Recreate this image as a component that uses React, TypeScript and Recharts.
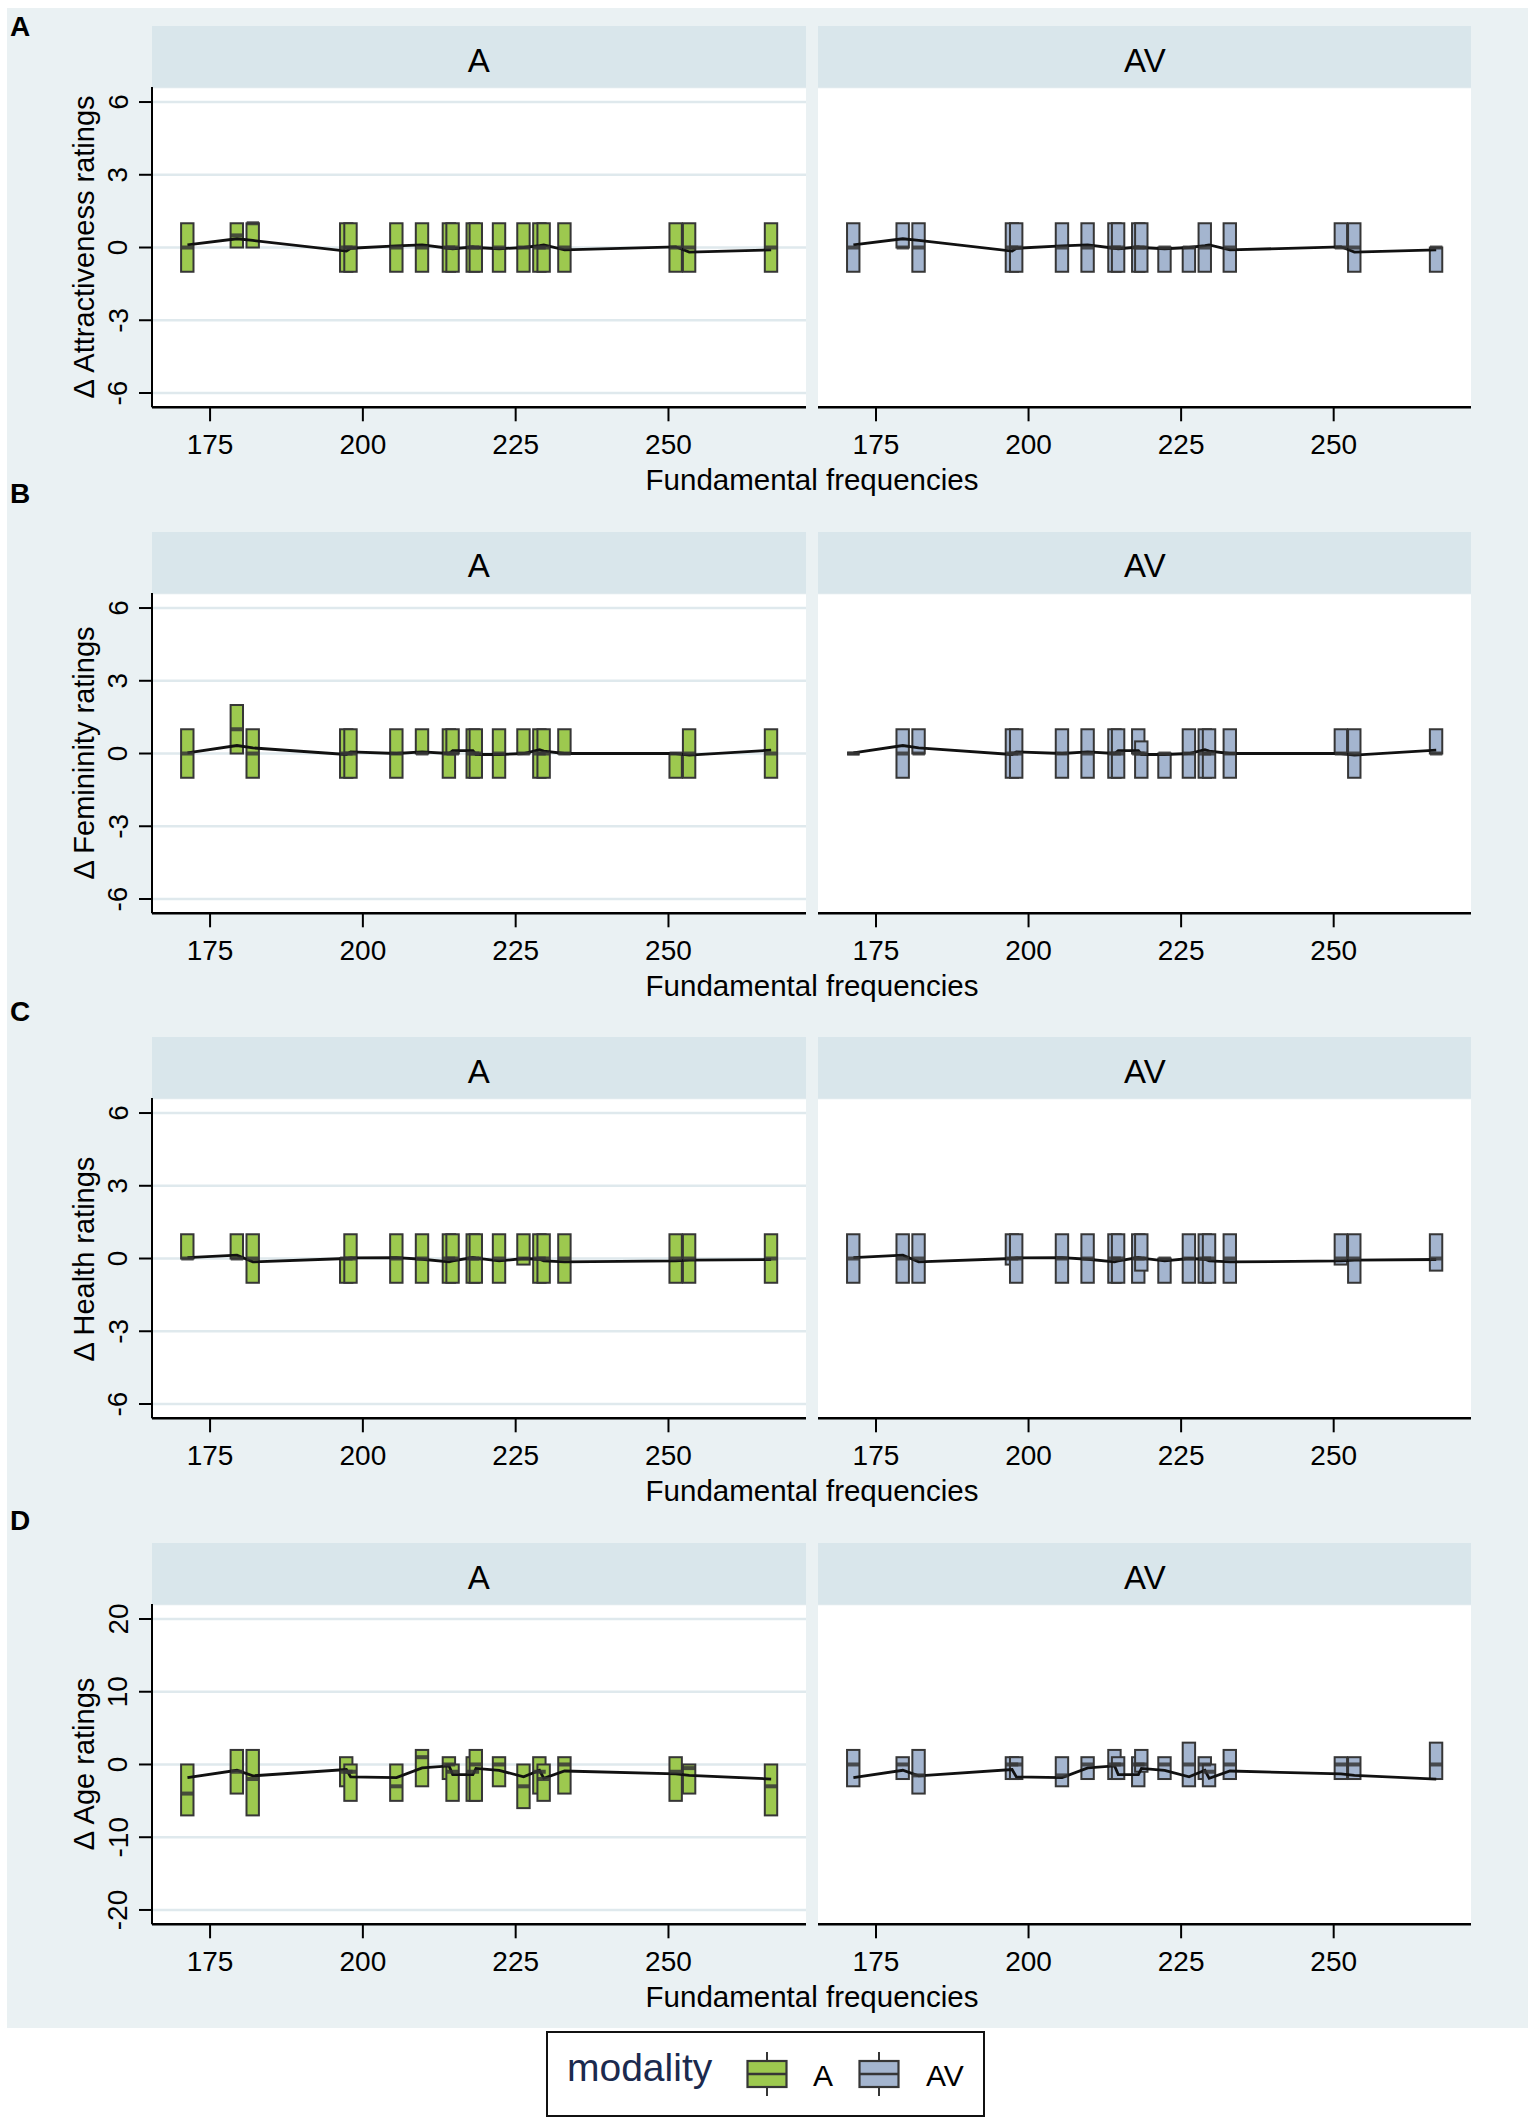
import React from 'react';
import { ComposedChart, Bar, Scatter, Line, XAxis, YAxis, CartesianGrid } from 'recharts';

const FONT = '"Liberation Sans", Arial, Helvetica, sans-serif';
const OUTLINE = '#363636';
const GREEN = '#9dc94f';
const BLUE = '#a4b5cf';
const BG = '#eaf1f3';
const HEADER = '#d9e6eb';
const GRID = '#dfe9ed';

// Fundamental frequencies (Hz) of the voices
const freqs = [171.3, 179.4, 182.0, 197.3, 198.0, 205.5, 209.7, 214.1, 214.7, 218.0, 218.5, 222.3, 226.3, 228.9, 229.6, 233.0, 251.2, 253.4, 266.8];
const xTicks = [175, 200, 225, 250];
const yTicksSmall = [-6, -3, 0, 3, 6];
const yTicksAge = [-20, -10, 0, 10, 20];
const panelNames = ['A', 'AV'];
const rowLetters = ['A', 'B', 'C', 'D'];
const yTitles = ['\u0394 Attractiveness ratings', '\u0394 Femininity ratings', '\u0394 Health ratings', '\u0394 Age ratings'];

type Box = [number, number, number] | null; // [q1, q3, median]

// Attractiveness
const attrLine = [0.11, 0.36, 0.29, -0.15, -0.03, 0.07, 0.11, -0.03, -0.05, 0.02, 0.0, -0.05, 0.0, 0.08, 0.11, -0.1, 0.03, -0.19, -0.1];
const attrA: Box[] = [[-1, 1, 0], [0, 1, 0.5], [0, 1, 1], [-1, 1, 0], [-1, 1, 0], [-1, 1, 0], [-1, 1, 0], [-1, 1, 0], [-1, 1, 0], [-1, 1, 0], [-1, 1, 0], [-1, 1, 0], [-1, 1, 0], [-1, 1, 0], [-1, 1, 0], [-1, 1, 0], [-1, 1, 0], [-1, 1, 0], [-1, 1, 0]];
const attrAV: Box[] = [[-1, 1, 0], [0, 1, 0], [-1, 1, 0], [-1, 1, 0], [-1, 1, 0], [-1, 1, 0], [-1, 1, 0], [-1, 1, 0], [-1, 1, 0], [-1, 1, 0], [-1, 1, 0], [-1, 0, 0], [-1, 0, 0], [-1, 1, 0], null, [-1, 1, 0], [0, 1, 0], [-1, 1, 0], [-1, 0, 0]];

// Femininity
const femLine = [0.03, 0.33, 0.23, -0.04, 0.07, 0.0, 0.07, 0.0, 0.12, 0.12, -0.04, -0.04, 0.0, 0.16, 0.1, 0.0, 0.0, -0.07, 0.14];
const femA: Box[] = [[-1, 1, 0], [0, 2, 1], [-1, 1, 0], [-1, 1, 0], [-1, 1, 0], [-1, 1, 0], [0, 1, 0], [-1, 1, 0], [0, 1, 0], [-1, 1, 0], [-1, 1, 0], [-1, 1, 0], [0, 1, 0], [-1, 1, 0], [-1, 1, 0], [0, 1, 0], [-1, 0, 0], [-1, 1, 0], [-1, 1, 0]];
const femAV: Box[] = [[0, 0, 0], [-1, 1, 0], [0, 1, 0], [-1, 1, 0], [-1, 1, 0], [-1, 1, 0], [-1, 1, 0], [-1, 1, 0], [-1, 1, 0], [0, 1, 0], [-1, 0.5, 0], [-1, 0, 0], [-1, 1, 0], [-1, 1, 0], [-1, 1, 0], [-1, 1, 0], [0, 1, 0], [-1, 1, 0], [0, 1, 0]];

// Health
const healthLine = [0.04, 0.14, -0.14, 0.0, 0.03, 0.04, -0.03, -0.14, -0.1, 0.04, 0.02, -0.1, 0.0, -0.03, -0.1, -0.14, -0.1, -0.07, -0.04];
const healthA: Box[] = [[0, 1, 0], [0, 1, 0], [-1, 1, 0], [-1, 0, 0], [-1, 1, 0], [-1, 1, 0], [-1, 1, 0], [-1, 1, 0], [-1, 1, 0], [-1, 1, 0], [-1, 1, 0], [-1, 1, 0], [-0.25, 1, 0], [-1, 1, 0], [-1, 1, 0], [-1, 1, 0], [-1, 1, 0], [-1, 1, 0], [-1, 1, 0]];
const healthAV: Box[] = [[-1, 1, 0], [-1, 1, 0], [-1, 1, 0], [-0.25, 1, 0], [-1, 1, 0], [-1, 1, 0], [-1, 1, 0], [-1, 1, 0], [-1, 1, 0], [-1, 1, 0], [-0.5, 1, 0], [-1, 0, 0], [-1, 1, 0], [-1, 1, 0], [-1, 1, 0], [-1, 1, 0], [-0.25, 1, 0], [-1, 1, 0], [-0.5, 1, 0]];

// Age
const ageLine = [-1.8, -0.8, -1.56, -0.7, -1.7, -1.8, -0.46, -0.2, -1.4, -1.4, -0.55, -0.8, -1.7, -0.8, -1.9, -0.9, -1.3, -1.5, -2.0];
const ageA: Box[] = [[-7, 0, -4], [-4, 2, -1], [-7, 2, -2], [-3, 1, -1], [-5, 0, -1], [-5, 0, -3], [-3, 2, 1], [-2, 1, 0], [-5, 0, -1], [-5, 1, -1], [-5, 2, 0], [-3, 1, 0], [-6, 0, -3], [-4, 1, -1], [-5, 0, -2], [-4, 1, 0], [-5, 1, -1], [-4, 0, -0.5], [-7, 0, -3]];
const ageAV: Box[] = [[-3, 2, 0], [-2, 1, 0], [-4, 2, -1.5], [-2, 1, 0], [-2, 1, 0], [-3, 1, -1.5], [-2, 1, 0], [-2, 2, 0], [-2, 1, 0], [-3, 1, 0], [-1, 2, 0], [-2, 1, 0], [-3, 3, 0], [-2, 1, 0], [-3, 0, -1], [-2, 2, 0], [-2, 1, 0], [-2, 1, 0], [-2, 3, 0]];

const rowLines = [attrLine, femLine, healthLine, ageLine];
const rowBoxes = [[attrA, attrAV], [femA, femAV], [healthA, healthAV], [ageA, ageAV]];
const rowYTicks = [yTicksSmall, yTicksSmall, yTicksSmall, yTicksAge];
const rowYDomains: [number, number][] = [[-6.59, 6.62], [-6.59, 6.62], [-6.59, 6.62], [-21.97, 22.06]];
const X_DOMAIN: [number, number] = [165.5, 272.5];

// layout
const ROW_TOPS = [26, 531.7, 1037.4, 1543.1];
const LETTER_TOPS = [12.5, 479.5, 998, 1507];
const PLOT_X = [151.7, 818.4];
const PLOT_W = [654, 653];
const Y_AXIS_W = 92;
const HEAD_H = 61;
const PLOT_H = 320.3;
const X_AXIS_H = 60;
const BOX_W = 12.4;

function buildData(boxes: Box[], line: number[]) {
  return freqs.map((f, i) => {
    const b = boxes[i];
    return { f, box: b ? [b[0], b[1]] : null, med: b ? b[2] : null, ln: line[i] };
  });
}

const BoxShape = (props: any) => {
  const { x, y, width, height, fill, payload } = props;
  if (!payload || payload.box == null || x == null || y == null || isNaN(y)) return null;
  const cx = x + (width || 0) / 2;
  const top = Math.min(y, y + height);
  const h = Math.abs(height);
  if (h < 2) {
    return <rect x={cx - BOX_W / 2} y={top - 1.8} width={BOX_W} height={3.6} fill={OUTLINE} />;
  }
  return <rect x={cx - BOX_W / 2} y={top} width={BOX_W} height={h} fill={fill} stroke={OUTLINE} strokeWidth={2} />;
};

const MedShape = (props: any) => {
  const { cx, cy, payload } = props;
  if (!payload || payload.med == null || cx == null || cy == null || isNaN(cy)) return null;
  return <rect x={cx - BOX_W / 2} y={cy - 2} width={BOX_W} height={4} fill={OUTLINE} fillOpacity={0.85} />;
};

const YTick = (props: any) => {
  const { x, y, payload } = props;
  const tx = x - 21;
  return (
    <text x={tx} y={y} transform={`rotate(-90 ${tx} ${y})`} textAnchor="middle" dominantBaseline="central" fontSize={28} fontFamily={FONT} fill="#000">
      {payload.value}
    </text>
  );
};

function Panel({ row, col }: { row: number; col: number }) {
  const T = ROW_TOPS[row];
  const showY = col === 0;
  const yW = showY ? Y_AXIS_W : 0;
  const left = PLOT_X[col] - yW;
  const width = PLOT_W[col] + yW;
  const height = PLOT_H + X_AXIS_H;
  const data = buildData(rowBoxes[row][col], rowLines[row]);
  const color = col === 0 ? GREEN : BLUE;
  return (
    <div style={{ position: 'absolute', left, top: T + HEAD_H, width, height }}>
      <ComposedChart width={width} height={height} data={data} margin={{ top: 0, right: 0, bottom: 0, left: 0 }}>
        <CartesianGrid vertical={false} stroke={GRID} strokeWidth={2.5} fill="#ffffff" fillOpacity={1} />
        <XAxis
          dataKey="f"
          type="number"
          domain={X_DOMAIN}
          ticks={xTicks}
          interval={0}
          allowDataOverflow
          height={X_AXIS_H}
          tickSize={14}
          tickMargin={13}
          axisLine={{ stroke: '#000', strokeWidth: 2.5 }}
          tickLine={{ stroke: '#000', strokeWidth: 2 }}
          tick={{ fontSize: 28, fill: '#000', fontFamily: FONT }}
        />
        {showY ? (
          <YAxis
            type="number"
            domain={rowYDomains[row]}
            ticks={rowYTicks[row]}
            interval={0}
            allowDataOverflow
            width={Y_AXIS_W}
            tickSize={13}
            tickMargin={0}
            axisLine={{ stroke: '#000', strokeWidth: 2 }}
            tickLine={{ stroke: '#000', strokeWidth: 2 }}
            tick={<YTick />}
          />
        ) : (
          <YAxis
            type="number"
            domain={rowYDomains[row]}
            ticks={rowYTicks[row]}
            interval={0}
            allowDataOverflow
            width={0}
            axisLine={false}
            tickLine={false}
            tick={false}
          />
        )}
        <Bar dataKey="box" barSize={11} fill={color} shape={<BoxShape />} isAnimationActive={false} />
        <Scatter dataKey="med" shape={<MedShape />} isAnimationActive={false} />
        <Line dataKey="ln" type="linear" stroke="#111" strokeWidth={2.8} dot={false} activeDot={false} isAnimationActive={false} />
      </ComposedChart>
    </div>
  );
}

function LegendIcon({ left, color }: { left: number; color: string }) {
  return (
    <svg style={{ position: 'absolute', left, top: 2050 }} width={44} height={48}>
      <line x1={22} y1={2} x2={22} y2={12} stroke={OUTLINE} strokeWidth={2} />
      <line x1={22} y1={36} x2={22} y2={46} stroke={OUTLINE} strokeWidth={2} />
      <rect x={2.5} y={11} width={39} height={26} fill={color} stroke={OUTLINE} strokeWidth={2.2} />
      <line x1={2.5} y1={24} x2={41.5} y2={24} stroke={OUTLINE} strokeWidth={2.5} />
    </svg>
  );
}

export default function App() {
  const rows = [0, 1, 2, 3];
  return (
    <div style={{ position: 'absolute', left: 0, top: 0, width: 1535, height: 2125, background: '#ffffff', fontFamily: FONT, overflow: 'hidden' }}>
      <div style={{ position: 'absolute', left: 7, top: 8, width: 1521, height: 2020, background: BG }} />
      {rows.map((r) => {
        const T = ROW_TOPS[r];
        return (
          <React.Fragment key={r}>
            <div style={{ position: 'absolute', left: 10, top: LETTER_TOPS[r], fontSize: 28, fontWeight: 'bold', lineHeight: 1, color: '#000' }}>
              {rowLetters[r]}
            </div>
            {[0, 1].map((c) => (
              <div key={c} style={{ position: 'absolute', left: PLOT_X[c], top: T, width: PLOT_W[c], height: HEAD_H, background: HEADER }}>
                <div style={{ position: 'absolute', left: 0, top: 17.5, width: '100%', textAlign: 'center', fontSize: 33, lineHeight: 1, color: '#000' }}>
                  {panelNames[c]}
                </div>
              </div>
            ))}
            <div
              style={{
                position: 'absolute',
                left: 83.7,
                top: T + HEAD_H + PLOT_H / 2,
                transform: 'translate(-50%, -50%) rotate(-90deg)',
                whiteSpace: 'nowrap',
                fontSize: 29,
                lineHeight: 1,
                color: '#000',
              }}
            >
              {yTitles[r]}
            </div>
            <Panel row={r} col={0} />
            <Panel row={r} col={1} />
            <div style={{ position: 'absolute', left: 512, top: T + 439, width: 600, textAlign: 'center', fontSize: 29.5, lineHeight: 1, color: '#000', whiteSpace: 'nowrap' }}>
              Fundamental frequencies
            </div>
          </React.Fragment>
        );
      })}
      <div style={{ position: 'absolute', left: 546, top: 2031, width: 435, height: 82, border: '2px solid #111', background: '#fff' }} />
      <div style={{ position: 'absolute', left: 567, top: 2047.7, fontSize: 39, lineHeight: 1, color: '#1b2a4e', whiteSpace: 'nowrap' }}>modality</div>
      <LegendIcon left={744.7} color={GREEN} />
      <div style={{ position: 'absolute', left: 813, top: 2060.6, fontSize: 30, lineHeight: 1, color: '#000' }}>A</div>
      <LegendIcon left={857} color={BLUE} />
      <div style={{ position: 'absolute', left: 926, top: 2060.6, fontSize: 30, lineHeight: 1, color: '#000' }}>AV</div>
    </div>
  );
}
